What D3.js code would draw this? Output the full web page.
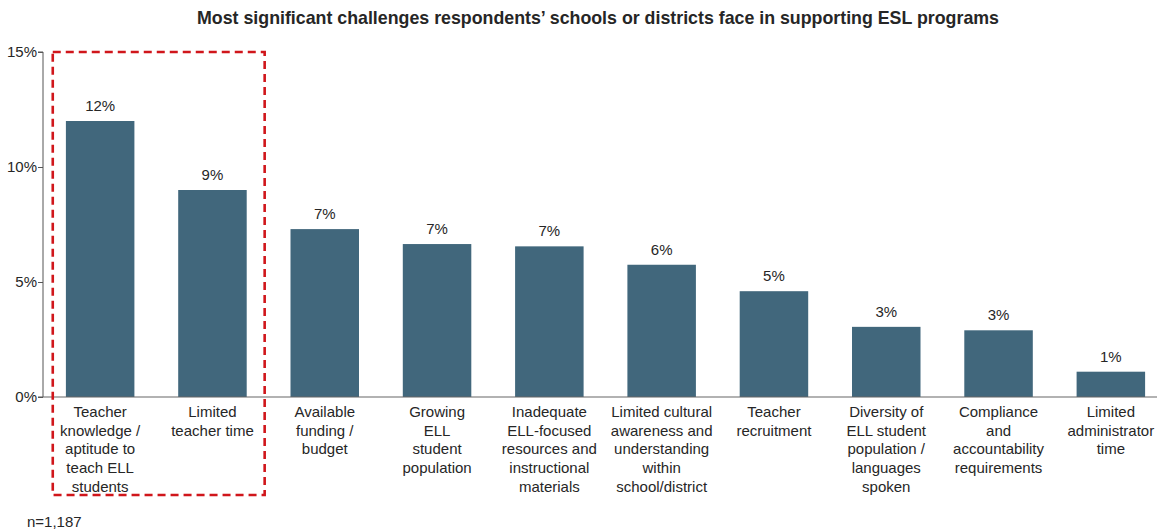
<!DOCTYPE html>
<html>
<head>
<meta charset="utf-8">
<script src="https://cdn.jsdelivr.net/npm/d3@7"></script>
<style>
body{margin:0;background:#fff;}
svg{display:block;font-family:"Liberation Sans",Arial,sans-serif;}
</style>
</head>
<body>
<svg id="chart" width="1159" height="531"></svg>
<script>
const categories = [
  ["Teacher","knowledge /","aptitude to","teach ELL","students"],
  ["Limited","teacher time"],
  ["Available","funding /","budget"],
  ["Growing","ELL","student","population"],
  ["Inadequate","ELL-focused","resources and","instructional","materials"],
  ["Limited cultural","awareness  and","understanding","within","school/district"],
  ["Teacher","recruitment"],
  ["Diversity of","ELL student","population /","languages","spoken"],
  ["Compliance","and","accountability","requirements"],
  ["Limited","administrator","time"]
];
const values = [12.0, 9.0, 7.3, 6.65, 6.55, 5.75, 4.6, 3.05, 2.9, 1.1];
const valueLabels = ["12%","9%","7%","7%","7%","6%","5%","3%","3%","1%"];
const yTicks = [0, 5, 10, 15];
const highlighted = [0, 1];
const title = "Most significant challenges respondents\u2019 schools or districts face in supporting ESL programs";
const note = "n=1,187";

const svg = d3.select("#chart");
const textColor = "#262626";
const barColor = "#41677c";

const x = d3.scaleBand()
  .domain(d3.range(categories.length))
  .range([44, 1167])
  .paddingInner(0.39)
  .paddingOuter(0.195);
const y = d3.scaleLinear().domain([0, 15]).range([397, 52]);

svg.append("text")
  .attr("x", 598).attr("y", 24)
  .attr("text-anchor", "middle")
  .attr("font-size", 17.8).attr("font-weight", "bold")
  .attr("fill", textColor)
  .text(title);

// y axis
const yAxis = svg.append("g")
  .attr("transform", "translate(43,0)")
  .call(d3.axisLeft(y).tickValues(yTicks).tickSize(5).tickFormat(d => d + "%"));
yAxis.select(".domain").attr("stroke", "#555").attr("d", `M-5,${y(15)}H0V${y(0)}H-5`);
yAxis.selectAll(".tick line").attr("stroke", "#555");
yAxis.selectAll(".tick text").attr("font-size", 15).attr("fill", textColor)
  .attr("x", -6).attr("font-family", "Liberation Sans, Arial, sans-serif");

// bars
svg.selectAll("rect.bar").data(values).join("rect")
  .attr("class", "bar")
  .attr("x", (d, i) => x(i))
  .attr("y", d => y(d))
  .attr("width", x.bandwidth())
  .attr("height", d => y(0) - y(d))
  .attr("fill", barColor);

// x axis baseline
svg.append("line")
  .attr("x1", 43).attr("x2", 1157)
  .attr("y1", y(0)).attr("y2", y(0))
  .attr("stroke", "#666").attr("stroke-width", 1.2);

// value labels
svg.selectAll("text.val").data(values).join("text")
  .attr("class", "val")
  .attr("x", (d, i) => x(i) + x.bandwidth() / 2)
  .attr("y", d => y(d) - 10)
  .attr("text-anchor", "middle")
  .attr("font-size", 15).attr("fill", textColor)
  .text((d, i) => valueLabels[i]);

// category labels
const lineH = 18.7;
const lab = svg.selectAll("text.cat").data(categories).join("text")
  .attr("class", "cat")
  .attr("text-anchor", "middle")
  .attr("font-size", 15).attr("fill", textColor)
  .attr("transform", (d, i) => `translate(${x(i) + x.bandwidth() / 2},${y(0) + 20})`);
lab.selectAll("tspan").data(d => d).join("tspan")
  .attr("x", 0)
  .attr("y", (d, j) => j * lineH)
  .text(d => d);

// highlight box
const step = x.step();
const hx0 = x(highlighted[0]) - (step - x.bandwidth()) * 0.3;
const hx1 = x(highlighted[highlighted.length - 1]) + x.bandwidth() + (step - x.bandwidth()) * 0.41;
svg.append("rect")
  .attr("x", hx0).attr("y", y(15))
  .attr("width", hx1 - hx0)
  .attr("height", y(0) + 98 - y(15))
  .attr("fill", "none")
  .attr("stroke", "#d0161b")
  .attr("stroke-width", 2.6)
  .attr("stroke-dasharray", "8,5");

svg.append("text")
  .attr("x", 27).attr("y", 527)
  .attr("font-size", 15).attr("fill", textColor)
  .text(note);
</script>
</body>
</html>
